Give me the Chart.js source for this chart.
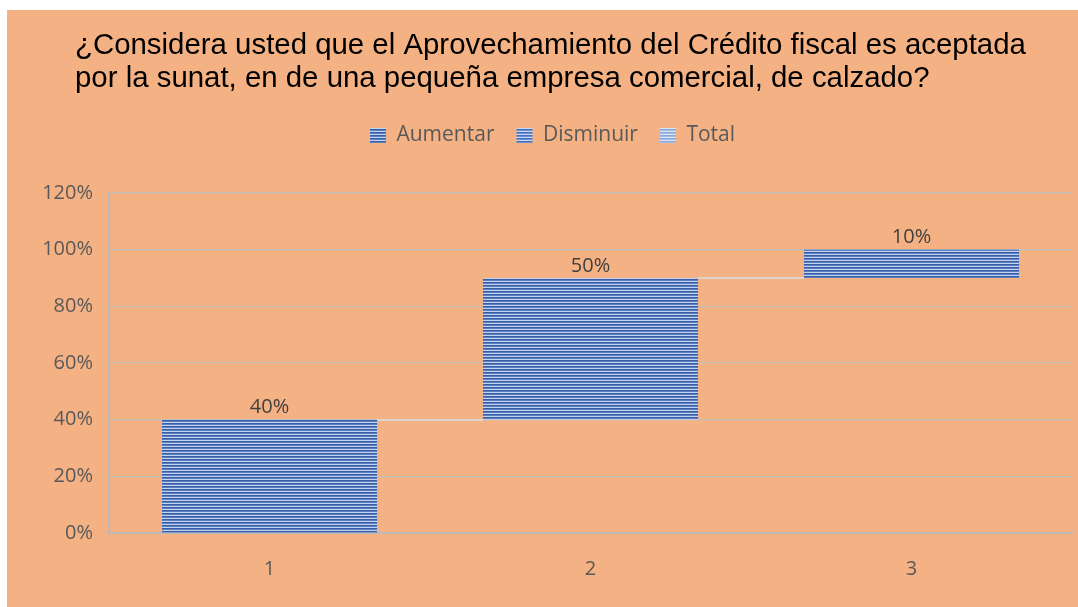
<!DOCTYPE html>
<html>
<head>
<meta charset="utf-8">
<script src="https://cdn.jsdelivr.net/npm/chart.js@4"></script>
<style>
  html, body { margin: 0; padding: 0; background: #fff; }
  #wrap { width: 1078px; height: 607px; }
</style>
</head>
<body>
<div id="wrap"><canvas id="myChart" width="1078" height="607"></canvas></div>
<script>
// data
let categories = ['1', '2', '3'];
let seriesNames = ['Aumentar', 'Disminuir', 'Total'];
let aumentarSteps = [40, 50, 10];   // each step in %
let titleLines = [
    '¿Considera usted que el Aprovechamiento del Crédito fiscal es aceptada',
    'por la sunat, en de una pequeña empresa comercial, de calzado?'
];
let yMax = 120;
let yStep = 20;

// waterfall: each bar floats on top of the previous running total
let running = 0;
let aumentarBars = aumentarSteps.map(v => {
    let bar = [running, running + v];
    running += v;
    return bar;
});

// striped fill like the Excel picture fill
function stripes(dark, mid, light) {
    let c = document.createElement('canvas');
    c.width = 4; c.height = 3;
    let g = c.getContext('2d');
    g.fillStyle = dark; g.fillRect(0, 0, 4, 1);
    g.fillStyle = mid; g.fillRect(0, 1, 4, 1);
    g.fillStyle = light; g.fillRect(0, 2, 4, 1);
    return g.createPattern(c, 'repeat');
}
let ctx = document.getElementById('myChart').getContext('2d');
let fillAumentar = stripes('#3b5da3', '#5a7ec2', '#c3d2ee');
let fillDisminuir = stripes('#4470c0', '#6a8fd0', '#c8d6f0');
let fillTotal = stripes('#8aa6da', '#a4bbe4', '#dbe4f5');
let patterns = [fillAumentar, fillDisminuir, fillTotal];

let tickFont = '"Open Sans", Lato, sans-serif';

const backgroundPlugin = {
    id: 'bg',
    beforeDraw(chart) {
        let c = chart.ctx;
        c.save();
        c.fillStyle = '#ffffff';
        c.fillRect(0, 0, chart.width, chart.height);
        c.fillStyle = '#f4b183';
        c.fillRect(7, 10, chart.width - 7, chart.height - 10);
        c.restore();
    }
};

// extra room under the legend, and nudge it a bit to the right
const legendMargin = {
    id: 'legendMargin',
    beforeInit(chart) {
        let origFit = chart.legend.fit;
        chart.legend.fit = function() {
            origFit.bind(chart.legend)();
            this.height += 37;
        };
    },
    afterLayout(chart) {
        chart.legend.left += 13;
        chart.legend.right += 13;
    }
};

const titlePlugin = {
    id: 'leftTitle',
    afterDraw(chart) {
        let c = chart.ctx;
        c.save();
        c.fillStyle = '#000000';
        c.font = '29.4px "Liberation Sans", Arial, sans-serif';
        c.textAlign = 'left';
        c.textBaseline = 'alphabetic';
        titleLines.forEach((line, i) => c.fillText(line, 75, 54 + i * 33));
        c.restore();
    }
};

// thin connectors between the floating bars
const connectorPlugin = {
    id: 'connectors',
    beforeDatasetsDraw(chart) {
        let meta = chart.getDatasetMeta(0);
        let y = chart.scales.y;
        let c = chart.ctx;
        c.save();
        c.strokeStyle = '#dcd6d0';
        c.lineWidth = 2;
        for (let i = 0; i < meta.data.length - 1; i++) {
            let a = meta.data[i], b = meta.data[i + 1];
            let py = Math.round(y.getPixelForValue(aumentarBars[i][1]));
            c.beginPath();
            c.moveTo(a.x + a.width / 2, py);
            c.lineTo(b.x - b.width / 2, py);
            c.stroke();
        }
        c.restore();
    }
};

const labelPlugin = {
    id: 'barLabels',
    afterDatasetsDraw(chart) {
        let meta = chart.getDatasetMeta(0);
        let c = chart.ctx;
        c.save();
        c.fillStyle = '#404040';
        c.font = '20px ' + tickFont;
        c.textAlign = 'center';
        c.textBaseline = 'middle';
        meta.data.forEach((bar, i) => {
            c.fillText(aumentarSteps[i] + '%', bar.x, bar.y - 12);
        });
        c.restore();
    }
};

let myChart = new Chart(ctx, {
    type: 'bar',
    data: {
        labels: categories,
        datasets: [
            { label: seriesNames[0], data: aumentarBars, backgroundColor: fillAumentar },
            { label: seriesNames[1], data: categories.map(() => null), backgroundColor: fillDisminuir },
            { label: seriesNames[2], data: categories.map(() => null), backgroundColor: fillTotal }
        ]
    },
    options: {
        responsive: false,
        animation: false,
        layout: { padding: { left: 7, right: 6, top: 103, bottom: 0 } },
        datasets: {
            bar: {
                grouped: false,
                categoryPercentage: 1,
                barPercentage: 0.67,
                borderWidth: 0
            }
        },
        plugins: {
            title: { display: false },
            tooltip: { enabled: false },
            legend: {
                position: 'top',
                labels: {
                    color: '#595959',
                    font: { family: tickFont, size: 21 },
                    boxWidth: 16,
                    boxHeight: 15,
                    padding: 22,
                    generateLabels: function(chart) {
                        return seriesNames.map((name, i) => ({
                            text: name,
                            fillStyle: patterns[i],
                            strokeStyle: 'rgba(0,0,0,0)',
                            lineWidth: 0,
                            fontColor: '#595959',
                            datasetIndex: i
                        }));
                    }
                }
            }
        },
        scales: {
            x: {
                grid: { display: false, drawTicks: false },
                border: { display: true, color: '#bababa', width: 2 },
                ticks: {
                    color: '#595959',
                    padding: 24,
                    font: { family: tickFont, size: 20 }
                },
                afterFit: function(scale) { scale.height = 74; }
            },
            y: {
                min: 0,
                max: yMax,
                ticks: {
                    stepSize: yStep,
                    color: '#595959',
                    padding: 16,
                    font: { family: tickFont, size: 20 },
                    callback: function(value) { return value + '%'; }
                },
                grid: { color: '#c2c0bd', lineWidth: 1.2, drawTicks: false },
                border: { display: true, color: '#bababa', width: 2 },
                afterFit: function(scale) { scale.width = 102; }
            }
        }
    },
    plugins: [legendMargin, backgroundPlugin, connectorPlugin, labelPlugin, titlePlugin]
});
</script>
</body>
</html>
